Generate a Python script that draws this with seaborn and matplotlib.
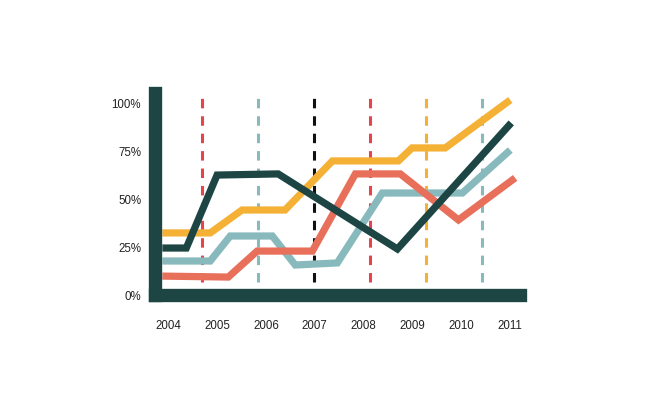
import numpy as np
import matplotlib.pyplot as plt
import pandas as pd
import seaborn as sns

# values (x in years, y in percent)
dark_x = [2003.88, 2004.37, 2005.00, 2006.25, 2008.69, 2011.02]
dark_y = [24.6, 24.6, 62.8, 63.4, 24.1, 90.1]

yellow_x = [2003.88, 2004.86, 2005.51, 2006.39, 2007.36, 2008.71, 2008.99, 2009.67, 2011.00]
yellow_y = [32.5, 32.5, 44.5, 44.5, 70.2, 70.2, 77.0, 77.0, 102.1]

teal_x = [2003.88, 2004.86, 2005.27, 2006.13, 2006.60, 2007.46, 2008.38, 2010.02, 2011.00]
teal_y = [17.8, 17.8, 30.9, 30.9, 15.7, 16.8, 53.4, 53.4, 75.9]

red_x = [2003.88, 2005.23, 2005.82, 2006.95, 2007.83, 2008.75, 2009.94, 2011.10]
red_y = [9.9, 9.4, 23.0, 23.0, 63.4, 63.4, 39.3, 61.3]

dash_x = [2004.70, 2005.84, 2006.99, 2008.13, 2009.28, 2010.43]
dash_colors = ['#e8434b', '#88babd', '#111111', '#e8434b', '#f4b136', '#88babd']

years = [2004, 2005, 2006, 2007, 2008, 2009, 2010, 2011]
pct_ticks = [0, 25, 50, 75, 100]
pct_labels = ['0%', '25%', '50%', '75%', '100%']

DARK = '#1d4544'
series = [
    (teal_x, teal_y, '#88babd'),
    (red_x, red_y, '#e8705b'),
    (yellow_x, yellow_y, '#f4b136'),
    (dark_x, dark_y, DARK),
]

sns.set_style('white')
plt.rcParams['font.family'] = ['Liberation Sans', 'DejaVu Sans']

fig = plt.figure(figsize=(6.5, 3.97), dpi=100)
ax = fig.add_axes([0.2385, 0.2569, 0.5608, 0.5076])

for x, c in zip(dash_x, dash_colors):
    ax.axvline(x, ymin=0.064, ymax=1.0, color=c, lw=2.2, dashes=(3.1, 2.6), zorder=1)

for xs, ys, c in series:
    df = pd.DataFrame({'x': xs, 'y': ys})
    sns.lineplot(data=df, x='x', y='y', ax=ax, color=c, lw=5.2, sort=False,
                 solid_capstyle='butt', solid_joinstyle='miter', zorder=2)

ax.set_xlim(2003.73, 2011.19)
ax.set_ylim(0, 105.5)

for side in ['top', 'right']:
    ax.spines[side].set_visible(False)
for side in ['left', 'bottom']:
    ax.spines[side].set_color(DARK)
    ax.spines[side].set_linewidth(9.6)
    ax.spines[side].set_capstyle('projecting')
    ax.spines[side].set_zorder(3)

ax.set_xticks(years)
ax.set_xticklabels([str(y) for y in years])
ax.set_yticks(pct_ticks)
ax.set_yticklabels(pct_labels)
ax.tick_params(axis='x', length=0, pad=18, labelsize=8.3, labelcolor='#222222')
ax.tick_params(axis='y', length=0, pad=10, labelsize=8.3, labelcolor='#222222')
ax.set_xlabel('')
ax.set_ylabel('')
ax.grid(False)

fig.savefig('out.png', dpi=100)
